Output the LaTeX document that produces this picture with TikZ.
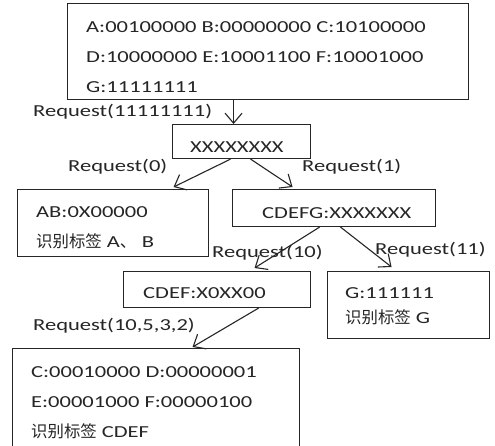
\documentclass[tikz,border=0pt]{standalone}
\usepackage{fontspec}
\setmainfont{Carlito}[FakeStretch=1.34]
\newfontfamily\cjk{Noto Sans CJK SC}
\usetikzlibrary{arrows.meta}
\tikzset{
  box/.style={draw=black!85, line width=1.1pt, rectangle, inner sep=0pt, anchor=north west},
  txt/.style={inner sep=0pt, anchor=base west, text=black!85,
    font=\fontsize{16.8}{20}\selectfont},
  arr/.style={draw=black!85, line width=1.1pt,
    -{Straight Barb[length=10pt, width=17pt, line width=1.1pt]}}
}
\begin{document}
\begin{tikzpicture}[x=1pt, y=-1pt]
\useasboundingbox[fill=white] (0,0) rectangle (495,445);

% boxes
\node[box, minimum width=401pt, minimum height=96pt] (top) at (67,3) {};
\node[box, minimum width=138pt, minimum height=34pt] (mid) at (172,124) {};
\node[box, minimum width=191pt, minimum height=67pt] (ab) at (17,189) {};
\node[box, minimum width=203pt, minimum height=37pt] (cdefg) at (232,189) {};
\node[box, minimum width=187pt, minimum height=36pt] (cdef) at (123,271) {};
\node[box, minimum width=162pt, minimum height=67pt] (g) at (327,271) {};
\node[box, minimum width=287pt, minimum height=104pt] (res) at (12,348) {};

% box contents
\node[txt] (t1) at (86,32) {A:00100000 B:00000000 C:10100000};
\node[txt] (t2) at (86,62) {D:10000000 E:10001100 F:10001000};
\node[txt] (t3) at (86,92) {G:11111111};
\node[txt] (m1) at (190,152) {XXXXXXXX};
\node[txt] (a1) at (36,217) {AB:0X00000};
\node[txt] (a2) at (36,247) {{\cjk\fontsize{16.4}{20}\selectfont 识别标签} A{\cjk 、} B};
\node[txt] (c1) at (262,218) {CDEFG:XXXXXXX};
\node[txt] (d1) at (143,298) {CDEF:X0XX00};
\node[txt] (g1) at (345,298) {G:111111};
\node[txt] (g2) at (345,323) {{\cjk\fontsize{16.4}{20}\selectfont 识别标签} G};
\node[txt] (r1) at (31,377) {C:00010000 D:00000001};
\node[txt] (r2) at (31,407) {E:00001000 F:00000100};
\node[txt] (r3) at (31,437) {{\cjk\fontsize{16.4}{20}\selectfont 识别标签} CDEF};

% request labels
\node[txt] (q0) at (33,116) {Request(11111111)};
\node[txt] (q1) at (68,171) {Request(0)};
\node[txt] (q2) at (302,171) {Request(1)};
\node[txt] (q3) at (212,257) {Request(10)};
\node[txt] (q4) at (375,254) {Request(11)};
\node[txt] (q5) at (33,330) {Request(10,5,3,2)};

% connectors
\draw[arr] ([xshift=-34.5pt]top.south) -- ([xshift=-8pt]mid.north);
\draw[arr] ([xshift=-11pt]mid.south) -- ([xshift=60.5pt,yshift=2pt]ab.north);
\draw[arr] ([xshift=9pt]mid.south) -- ([xshift=-41.5pt,yshift=2pt]cdefg.north);
\draw[arr] ([xshift=-14.5pt]cdefg.south) -- ([xshift=37.5pt,yshift=3pt]cdef.north);
\draw[arr] ([xshift=6.5pt]cdefg.south) -- ([xshift=-17pt,yshift=4pt]g.north);
\draw[arr] ([xshift=41.5pt]cdef.south) -- ([xshift=36.5pt,yshift=1pt]res.north);
\end{tikzpicture}
\end{document}
